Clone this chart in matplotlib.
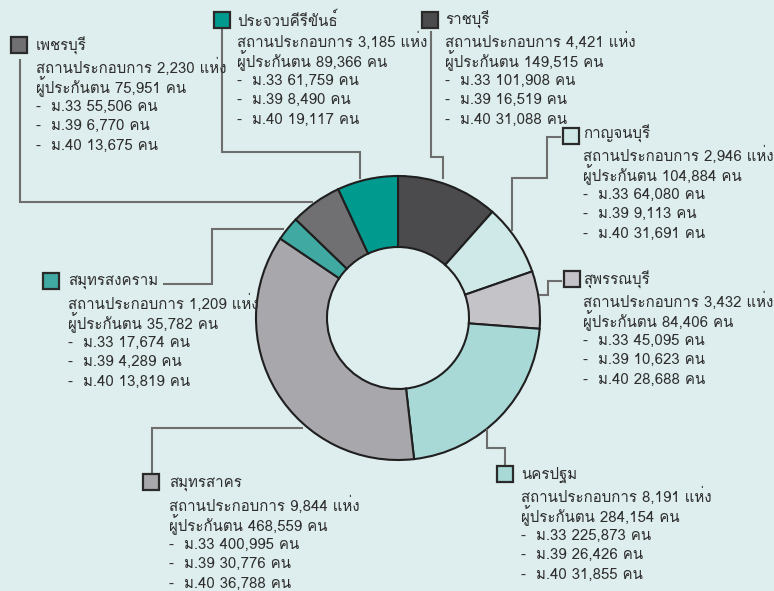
import matplotlib
matplotlib.use("Agg")
import matplotlib.pyplot as plt
from matplotlib import font_manager
from matplotlib.ft2font import FT2Font
from matplotlib.patches import Rectangle


# data (clockwise from the top)
provinces = ["ราชบุรี", "กาญจนบุรี", "สุพรรณบุรี", "นครปฐม",
             "สมุทรสาคร", "สมุทรสงคราม", "เพชรบุรี", "ประจวบคีรีขันธ์"]
establishments = [4421, 2946, 3432, 8191, 9844, 1209, 2230, 3185]
insured = [149515, 104884, 84406, 284154, 468559, 35782, 75951, 89366]
m33 = [101908, 64080, 45095, 225873, 400995, 17674, 55506, 61759]
m39 = [16519, 9113, 10623, 26426, 30776, 4289, 6770, 8490]
m40 = [31088, 31691, 28688, 31855, 36788, 13819, 13675, 19117]
colors = ["#4b4b4d", "#cfe9e8", "#c4c3c8", "#a9d9d6",
          "#a8a8ac", "#3fa9a2", "#707073", "#009a8f"]

# layout in pixels: box top-left, text x, first line y, leader line points
boxes = [(422, 12), (563, 128), (564, 271), (497, 466),
         (143, 474), (43, 273), (11, 37), (214, 12)]
text_pos = [(445, 20), (583, 134), (583, 280), (521, 475),
            (169, 484), (68, 282), (36, 46), (237, 20)]
leaders = [
    [(431, 32), (431, 157), (443, 157), (443, 178)],
    [(560, 137), (547, 137), (547, 178), (512, 178), (512, 230)],
    [(561, 281), (548, 281), (548, 295), (540, 295)],
    [(487, 430), (487, 448), (505, 448), (505, 466)],
    [(152, 472), (152, 428), (302, 428)],
    [(164, 284), (212, 284), (212, 229), (283, 229)],
    [(20, 60), (20, 202), (312, 202)],
    [(222, 30), (222, 152), (360, 152), (360, 178)],
]


def find_thai_font():
    for f in font_manager.fontManager.ttflist:
        try:
            if 0x0E01 in FT2Font(f.fname).get_charmap():
                return f.name
        except Exception:
            pass
    return "DejaVu Sans"


thai_font = find_thai_font()
plt.rcParams["font.family"] = [thai_font, "DejaVu Sans"]

W, H = 774, 591
bg = "#deeded"
fig = plt.figure(figsize=(W / 100, H / 100), dpi=100, facecolor=bg)
ax = fig.add_axes([0, 0, 1, 1])
ax.set_facecolor(bg)

# y axis is inverted (pixel coords), so counterclock in data = clockwise on screen
ax.pie(insured, colors=colors, startangle=-90, counterclock=True,
       center=(398, 318), radius=142,
       wedgeprops=dict(width=71, edgecolor="#1f1f1f", linewidth=1.5))

for pts in leaders:
    xs, ys = zip(*pts)
    ax.plot(xs, ys, color="#6e6e6e", lw=1.5, solid_joinstyle="miter")

txt_color = "#2e2e2e"
fs = 10.8
step = 19.7
for i, name in enumerate(provinces):
    bx, by = boxes[i]
    ax.add_patch(Rectangle((bx, by), 16, 16, facecolor=colors[i],
                           edgecolor="#2a2a2a", lw=1.6, zorder=3))
    tx, ty = text_pos[i]
    lines = [name,
             f"สถานประกอบการ {establishments[i]:,} แห่ง",
             f"ผู้ประกันตน {insured[i]:,} คน",
             f"-  ม.33 {m33[i]:,} คน",
             f"-  ม.39 {m39[i]:,} คน",
             f"-  ม.40 {m40[i]:,} คน"]
    for k, line in enumerate(lines):
        y = ty + (k * step + (1.5 if k > 0 else 0))
        ax.text(tx, y, line, fontsize=fs, color=txt_color,
                ha="left", va="center")

ax.set_xlim(0, W)
ax.set_ylim(H, 0)
ax.set_aspect("equal")
ax.axis("off")

fig.savefig("out.png", dpi=100, facecolor=bg)
